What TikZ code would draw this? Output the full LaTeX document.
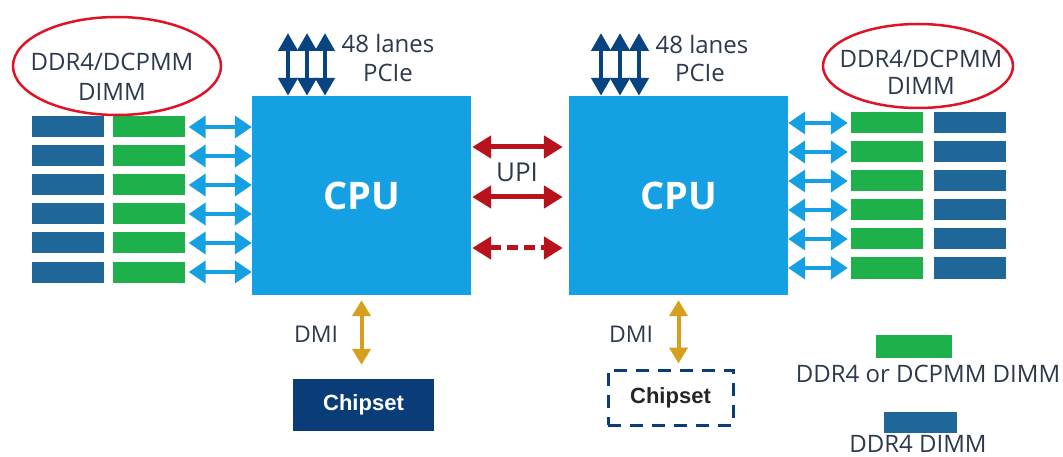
\documentclass[tikz,border=0pt]{standalone}
\usepackage{fontspec}
\setmainfont{Open Sans}
\newfontfamily\chipfont{Liberation Sans}
\usetikzlibrary{arrows.meta}
\definecolor{cpublue}{RGB}{20,160,226}
\definecolor{dimmblue}{RGB}{31,103,153}
\definecolor{dimmgreen}{RGB}{29,176,75}
\definecolor{pcienavy}{RGB}{9,68,130}
\definecolor{chipnavy}{RGB}{10,61,120}
\definecolor{upired}{RGB}{186,18,28}
\definecolor{ovalred}{RGB}{222,20,38}
\definecolor{dmigold}{RGB}{212,160,30}
\definecolor{textgray}{RGB}{44,58,76}
\tikzset{
  cpubox/.style={rectangle, fill=cpublue, minimum width=219pt, minimum height=199pt, inner sep=0pt,
    text=white, font=\fontsize{38}{44}\selectfont\bfseries},
  dimmb/.style={rectangle, fill=dimmblue, minimum width=72pt, minimum height=21pt, inner sep=0pt},
  dimmg/.style={rectangle, fill=dimmgreen, minimum width=72pt, minimum height=21pt, inner sep=0pt},
  lbl/.style={font=\fontsize{24}{28}\selectfont, text=textgray, inner sep=0pt, anchor=base},
  memarrow/.style={draw=cpublue, line width=4pt, {Triangle[length=17pt,width=22pt]}-{Triangle[length=17pt,width=22pt]}},
  upiarrow/.style={draw=upired, line width=5pt, {Triangle[length=19pt,width=22pt]}-{Triangle[length=19pt,width=22pt]}},
  pciearrow/.style={draw=pcienavy, line width=4.5pt, {Triangle[length=18pt,width=19pt]}-{Triangle[length=18pt,width=19pt]}},
  dmiarrow/.style={draw=dmigold, line width=4pt, {Triangle[length=16pt,width=18pt]}-{Triangle[length=16pt,width=18pt]}},
  oval/.style={draw=ovalred, line width=2.5pt},
}
\begin{document}
\begin{tikzpicture}[x=1pt,y=-1pt]
\useasboundingbox (0,0) rectangle (1063,457);
\fill[white] (0,0) rectangle (1063,457);

% CPUs
\node[cpubox] (cpuL) at (361.5,195.5) {CPU};
\node[cpubox] (cpuR) at (678.5,195.5) {CPU};

% left DIMMs and arrows
\foreach \i/\y in {1/127,2/156,3/185,4/214,5/243,6/272}{
  \node[dimmb] (bL\i) at (68,\y) {};
  \node[dimmg] (gL\i) at (148.5,\y) {};
  \draw[memarrow, shorten <=4pt] (gL\i.east) -- (gL\i.east -| cpuL.west);
}
% right DIMMs and arrows
\foreach \i/\y in {1/123,2/152,3/181,4/210,5/239,6/268}{
  \node[dimmg] (gR\i) at (887,\y) {};
  \node[dimmb] (bR\i) at (970,\y) {};
  \draw[memarrow, shorten >=3pt] (gR\i.west -| cpuR.east) -- (gR\i.west);
}

% labels with ovals
\node[lbl] (memLa) at (112,71) {DDR4/DCPMM};
\node[lbl] (memLb) at (112,101) {DIMM};
\draw[oval] (117,66) ellipse [x radius=104, y radius=49];
\node[lbl] (memRa) at (921,68) {DDR4/DCPMM};
\node[lbl] (memRb) at (921,95) {DIMM};
\draw[oval] (918,66) ellipse [x radius=95, y radius=42];

% PCIe
\foreach \i/\x in {1/288,2/307,3/325}{
  \coordinate (pL\i) at (\x,33);
  \draw[pciearrow] (pL\i) -- (pL\i |- cpuL.north);
}
\foreach \i/\x in {1/601,2/620,3/639}{
  \coordinate (pR\i) at (\x,33);
  \draw[pciearrow] (pR\i) -- (pR\i |- cpuR.north);
}
\node[lbl] (pcieLa) at (388,53) {48 lanes};
\node[lbl] (pcieLb) at (388,82) {PCIe};
\node[lbl] (pcieRa) at (702,54) {48 lanes};
\node[lbl] (pcieRb) at (700,82) {PCIe};

% UPI
\draw[upiarrow, shorten <=1pt, shorten >=6pt] ([yshift=48.5pt]cpuL.east) -- ([yshift=48.5pt]cpuR.west);
\draw[upiarrow, shorten <=1pt, shorten >=6pt] ([yshift=-1.5pt]cpuL.east) -- ([yshift=-1.5pt]cpuR.west);
\draw[upiarrow, shorten <=1pt, shorten >=6pt, dash pattern=on 11pt off 6pt] ([yshift=-52.5pt]cpuL.east) -- ([yshift=-52.5pt]cpuR.west);
\node[lbl, font=\fontsize{26}{30}\selectfont] (upi) at (517,182) {UPI};

% Chipsets
\node[rectangle, fill=chipnavy, minimum width=141pt, minimum height=52pt, inner sep=0pt,
  text=white, font=\chipfont\fontsize{22}{25}\selectfont\bfseries] (chipL) at (363.5,405) {Chipset};
\node[rectangle, draw=chipnavy, line width=3pt, dash pattern=on 13pt off 9pt, minimum width=125pt, minimum height=55pt, inner sep=0pt,
  text=black!85, font=\chipfont\fontsize{22}{25}\selectfont\bfseries] (chipR) at (670.5,397.5) {Chipset};

% DMI
\draw[dmiarrow, shorten <=5pt, shorten >=14pt] (cpuL.south) -- (cpuL.south |- chipL.north);
\draw[dmiarrow, shorten <=5pt, shorten >=5pt] (cpuR.south) -- (cpuR.south |- chipR.north);
\node[lbl, font=\fontsize{23}{27}\selectfont] (dmiL) at (316,342) {DMI};
\node[lbl, font=\fontsize{23}{27}\selectfont] (dmiR) at (631,342) {DMI};

% Legend
\node[dimmg, minimum width=76pt, minimum height=23pt] (legG) at (914,346.5) {};
\node[lbl] (legGt) at (928,382) {DDR4 or DCPMM DIMM};
\node[dimmb, minimum width=73pt, minimum height=21pt] (legB) at (920.5,422.5) {};
\node[lbl] (legBt) at (918,452) {DDR4 DIMM};
\end{tikzpicture}
\end{document}
